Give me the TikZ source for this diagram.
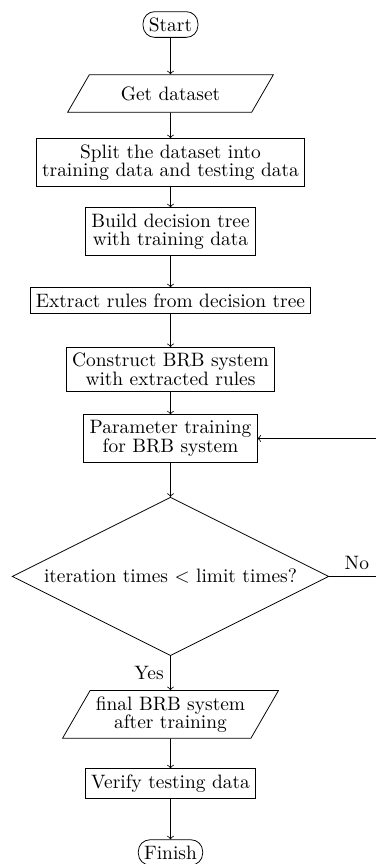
\documentclass[tikz,border=0pt]{standalone}
\usetikzlibrary{positioning, shapes.geometric}

\begin{document}
\begin{tikzpicture}[
    node distance = 1.25cm, on grid,
    font=\fontsize{10}{9.5}\selectfont,
    startstop/.style={draw, rectangle, rounded corners=6pt, inner sep=3pt},
    process/.style={draw, rectangle, align=center, inner sep=3pt},
    io/.style={draw, trapezium, trapezium left angle=60, trapezium right angle=120, align=center, inner sep=3pt},
    decision/.style={draw, diamond, aspect=2, inner sep=3pt},
    flow/.style={->},
]

% Fix the frame of the picture
\useasboundingbox (-3.089,0.444) rectangle (3.723,-15.21);

% Nodes of the flow chart
\node[startstop] (start) {Start};
\node[io, below=of start, minimum width=3.75cm] (getdata) {Get dataset};
\node[process, below=of getdata] (split) {Split the dataset into\\training data and testing data};
\node[process, below=of split] (build) {Build decision tree\\with training data};
\node[process, below=of build] (extract) {Extract rules from decision tree};
\node[process, below=of extract] (construct) {Construct BRB system\\with extracted rules};
\node[process, below=of construct] (param) {Parameter training\\for BRB system};
\node[decision, below=2.5cm of param] (iter) {iteration times $<$ limit times?};
\node[io, below=2.5cm of iter] (final) {final BRB system\\after training};
\node[process, below=of final] (verify) {Verify testing data};
\node[startstop, below=of verify] (finish) {Finish};

% Arrows down the chart
\draw[flow] (start) -- (getdata);
\draw[flow] (getdata) -- (split);
\draw[flow] (split) -- (build);
\draw[flow] (build) -- (extract);
\draw[flow] (extract) -- (construct);
\draw[flow] (construct) -- (param);
\draw[flow] (param) -- (iter);
\draw[flow] (iter) -- node[left] {Yes} (final);
\draw[flow] (final) -- (verify);
\draw[flow] (verify) -- (finish);

% Loop back for more training
\draw[flow] (iter.east) -- node[above] {No} ++(1,0) |- (param.east);

\end{tikzpicture}
\end{document}
